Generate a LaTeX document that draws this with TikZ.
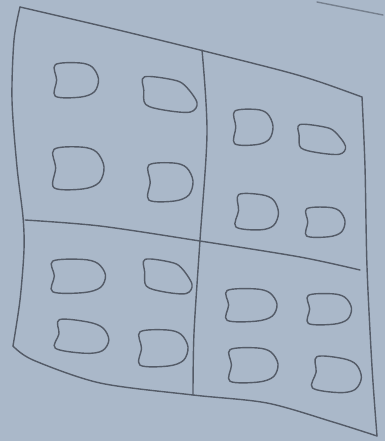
\documentclass[tikz,border=0pt]{standalone}
\begin{document}
\begin{tikzpicture}[x=1pt,y=-1pt,
  pencil/.style={draw=pencilc, line width=1.4pt, line cap=round, line join=round},
  blobline/.style={draw=pencilc, line width=1.4pt, line join=round}]
\definecolor{paper}{RGB}{170,184,201}
\definecolor{pencilc}{RGB}{84,91,103}
\newcommand\dblob[5]{%
  \draw[blobline, shift={(#1,#2)}, rotate=#5, xscale=#3/2, yscale=#4/2]
    plot[smooth cycle, tension=0.55] coordinates
    {(-0.92,-0.85) (0.15,-0.95) (0.72,-0.72) (1,-0.05) (0.82,0.65) (0.2,0.95) (-0.92,0.9) (-0.86,0.0)};}
\newcommand\sblob[5]{%
  \draw[blobline, shift={(#1,#2)}, rotate=#5, xscale=#3/2, yscale=#4/2]
    plot[smooth cycle, tension=0.55] coordinates
    {(-0.95,-0.9) (0.1,-0.75) (0.55,-0.45) (1,0.45) (0.75,0.95) (-0.2,0.85) (-0.9,0.55) (-0.97,-0.2)};}
\path[fill=paper, use as bounding box] (0,0) rectangle (385,441);
% outer frame
\draw[pencil] plot[smooth, tension=0.5] coordinates {(20,7) (110,28) (200,50) (283,71) (320,82) (362,97)};
\draw[pencil] plot[smooth, tension=0.5] coordinates {(362,97) (365,167) (367,267) (372,367) (377,436)};
\draw[pencil] plot[smooth, tension=0.5] coordinates {(377,436) (333,422) (267,403) (193,395) (100,383) (33,360) (13,346)};
\draw[pencil] plot[smooth, tension=0.5] coordinates {(13,346) (20,300) (24,250) (23,217) (17,167) (12,100) (14,40) (20,7)};
% dividers
\draw[pencil] plot[smooth, tension=0.5] coordinates {(202,50) (207,133) (200,240) (194,333) (193,395)};
\draw[pencil] plot[smooth, tension=0.5] coordinates {(25,220) (100,226) (200,241) (300,257) (360,270)};
% stray stroke top right
\draw[pencil, draw opacity=0.6] (317,2) -- (383,15);
% top-left quadrant
\dblob{76}{80}{45}{36}{0}
\sblob{170}{94}{54}{38}{0}
\dblob{78}{168}{52}{44}{0}
\dblob{170}{182}{46}{40}{0}
% top-right quadrant
\dblob{253}{127}{40}{37}{0}
\sblob{322}{139}{47}{32}{0}
\dblob{257}{212}{43}{37}{-5}
\dblob{325}{222}{40}{31}{0}
% bottom-left quadrant
\dblob{78}{276}{55}{35}{0}
\sblob{168}{276}{48}{37}{0}
\dblob{82}{337}{54}{33}{-8}
\dblob{163}{348}{50}{38}{0}
% bottom-right quadrant
\dblob{251}{305}{52}{34}{0}
\dblob{329}{309}{45}{32}{0}
\dblob{253}{365}{50}{36}{0}
\dblob{337}{375}{49}{36}{-8}
\end{tikzpicture}
\end{document}
